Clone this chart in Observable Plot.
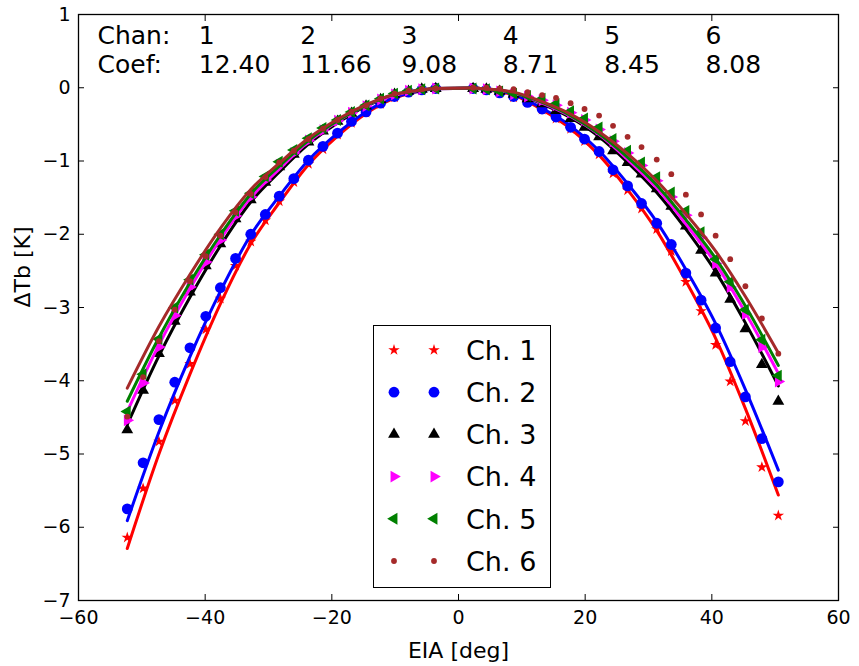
<!DOCTYPE html>
<html><head><meta charset="utf-8">
<script src="https://cdn.jsdelivr.net/npm/d3@7"></script>
<script src="https://cdn.jsdelivr.net/npm/@observablehq/plot@0.6"></script>
<style>
body{margin:0;background:#fff;}
#wrap{position:relative;width:859px;height:666px;font-family:"DejaVu Sans",sans-serif;}
#legend{position:absolute;left:373px;top:325px;width:178px;height:263px;border:1.5px solid #000;background:#fff;box-sizing:border-box;}
</style></head><body><div id="wrap"></div>
<script>
// ---- data ----
const eia = [-52.3,-49.8,-47.3,-44.8,-42.4,-39.9,-37.6,-35.2,-32.8,-30.5,-28.3,-26.0,-23.7,-21.4,-19.1,-16.9,-14.6,-12.3,-10.1,-7.9,-5.8,-3.6,
  2.3,4.4,6.5,8.7,10.9,13.2,15.4,17.7,19.9,22.2,24.4,26.7,28.9,31.3,33.6,35.9,38.3,40.6,42.9,45.3,47.9,50.5];
const ch1 = [-6.14,-5.47,-4.83,-4.27,-3.77,-3.30,-2.88,-2.43,-2.10,-1.81,-1.55,-1.29,-1.04,-0.84,-0.64,-0.48,-0.34,-0.22,-0.13,-0.06,-0.03,-0.01,
  -0.01,-0.03,-0.07,-0.13,-0.20,-0.30,-0.42,-0.56,-0.73,-0.91,-1.17,-1.40,-1.65,-1.93,-2.23,-2.65,-3.05,-3.51,-4.01,-4.55,-5.18,-5.84];
const ch2 = [-5.75,-5.12,-4.53,-4.02,-3.55,-3.12,-2.73,-2.33,-2.00,-1.73,-1.48,-1.24,-0.99,-0.80,-0.62,-0.46,-0.33,-0.21,-0.12,-0.06,-0.03,-0.01,
  -0.01,-0.03,-0.07,-0.12,-0.20,-0.29,-0.40,-0.54,-0.70,-0.87,-1.12,-1.34,-1.58,-1.85,-2.14,-2.53,-2.90,-3.28,-3.74,-4.22,-4.79,-5.38];
const ch3 = [-4.67,-4.13,-3.63,-3.19,-2.79,-2.43,-2.13,-1.79,-1.53,-1.29,-1.08,-0.91,-0.74,-0.59,-0.46,-0.35,-0.25,-0.16,-0.09,-0.05,-0.02,-0.01,
  -0.01,-0.02,-0.05,-0.09,-0.15,-0.22,-0.31,-0.42,-0.54,-0.67,-0.86,-1.02,-1.18,-1.38,-1.62,-1.89,-2.22,-2.53,-2.89,-3.29,-3.78,-4.28];
const ch4 = [-4.54,-4.03,-3.54,-3.11,-2.72,-2.38,-2.08,-1.75,-1.49,-1.26,-1.05,-0.89,-0.72,-0.58,-0.45,-0.34,-0.25,-0.16,-0.09,-0.04,-0.02,-0.01,
  -0.01,-0.02,-0.05,-0.09,-0.12,-0.17,-0.24,-0.34,-0.44,-0.57,-0.73,-0.89,-1.06,-1.27,-1.49,-1.74,-2.04,-2.40,-2.72,-3.09,-3.54,-4.01];
const ch5 = [-4.42,-3.91,-3.43,-3.00,-2.62,-2.28,-2.00,-1.68,-1.44,-1.21,-1.01,-0.85,-0.69,-0.55,-0.44,-0.33,-0.24,-0.15,-0.08,-0.04,-0.02,-0.01,
  -0.01,-0.02,-0.05,-0.08,-0.11,-0.15,-0.22,-0.32,-0.42,-0.54,-0.70,-0.86,-1.02,-1.22,-1.43,-1.68,-1.97,-2.34,-2.65,-3.03,-3.44,-3.93];
const ch6 = [-4.49,-3.95,-3.46,-3.03,-2.64,-2.30,-2.02,-1.70,-1.45,-1.22,-1.02,-0.86,-0.70,-0.56,-0.44,-0.33,-0.24,-0.15,-0.08,-0.04,-0.02,-0.01,
  0.00,0.00,-0.01,-0.02,-0.06,-0.10,-0.14,-0.21,-0.29,-0.38,-0.52,-0.67,-0.81,-0.98,-1.18,-1.46,-1.73,-2.02,-2.34,-2.71,-3.15,-3.63];

const fitX = [-52.3,-47.3,-42.4,-37.6,-32.8,-28.3,-23.7,-19.1,-14.6,-10.1,-5.8,-3.6,2.3,4.4,8.7,13.2,17.7,22.2,26.7,31.3,35.9,40.6,45.3,50.5];
const fit1 = [-6.29,-5.00,-3.91,-2.95,-2.13,-1.57,-1.05,-0.66,-0.35,-0.14,-0.04,-0.015,-0.006,-0.025,-0.10,-0.30,-0.56,-0.92,-1.39,-1.95,-2.64,-3.42,-4.38,-5.56];
const fit2 = [-5.91,-4.70,-3.67,-2.78,-2.01,-1.48,-0.99,-0.62,-0.33,-0.13,-0.04,-0.014,-0.006,-0.023,-0.09,-0.28,-0.52,-0.86,-1.31,-1.83,-2.48,-3.22,-4.12,-5.22];
const fit3 = [-4.60,-3.66,-2.86,-2.16,-1.56,-1.15,-0.77,-0.48,-0.25,-0.10,-0.03,-0.011,-0.005,-0.018,-0.07,-0.22,-0.41,-0.67,-1.02,-1.43,-1.93,-2.51,-3.21,-4.07];
const fit4 = [-4.42,-3.51,-2.74,-2.07,-1.50,-1.11,-0.74,-0.46,-0.24,-0.10,-0.03,-0.010,-0.004,-0.017,-0.07,-0.21,-0.39,-0.64,-0.98,-1.37,-1.86,-2.40,-3.07,-3.90];
const fit5 = [-4.28,-3.41,-2.66,-2.01,-1.45,-1.07,-0.72,-0.45,-0.24,-0.09,-0.03,-0.010,-0.004,-0.017,-0.07,-0.20,-0.38,-0.63,-0.95,-1.33,-1.80,-2.33,-2.98,-3.79];
const fit6 = [-4.10,-3.26,-2.55,-1.92,-1.39,-1.03,-0.69,-0.43,-0.23,-0.09,-0.03,-0.010,-0.004,-0.016,-0.06,-0.19,-0.36,-0.60,-0.90,-1.27,-1.72,-2.23,-2.85,-3.62];

const chanLabels = ["Chan:","1","2","3","4","5","6"];
const coefLabels = ["Coef:","12.40","11.66","9.08","8.71","8.45","8.08"];
const legendLabels = ["Ch. 1","Ch. 2","Ch. 3","Ch. 4","Ch. 5","Ch. 6"];
const xTicks = [-60,-40,-20,0,20,40,60];
const yTicks = [1,0,-1,-2,-3,-4,-5,-6,-7];
const annotX = [-57,-41,-25,-9,7,23,39];
const annotY = [0.6, 0.2];

// ---- styles ----
const colors = ["#ff0000","#0000ff","#000000","#ff00ff","#008000","#a52a2a"];
const triRight = {draw(c, size){const k=Math.sqrt(size/(3*Math.sqrt(3)));c.moveTo(2*k,0);c.lineTo(-k,-Math.sqrt(3)*k);c.lineTo(-k,Math.sqrt(3)*k);c.closePath();}};
const triLeft = {draw(c, size){const k=Math.sqrt(size/(3*Math.sqrt(3)));c.moveTo(-2*k,0);c.lineTo(k,-Math.sqrt(3)*k);c.lineTo(k,Math.sqrt(3)*k);c.closePath();}};
const symbols = ["star","circle","triangle",triRight,triLeft,"circle"];
const radii = [3.6,5.4,4.4,4.4,4.4,2.9];

const series = [ch1,ch2,ch3,ch4,ch5,ch6];
const fits = [fit1,fit2,fit3,fit4,fit5,fit6];
const minus = d => d < 0 ? "\u2212" + Math.abs(d) : String(d);

const marks = [];
series.forEach((s, k) => {
  const pts = eia.map((x, i) => ({x, y: s[i]}));
  const fl = fitX.map((x, i) => ({x, y: fits[k][i]}));
  marks.push(Plot.dot(pts, {x: "x", y: "y", r: radii[k], symbol: symbols[k], fill: colors[k], stroke: "none"}));
  marks.push(Plot.line(fl, {x: "x", y: "y", stroke: colors[k], strokeWidth: 3, curve: "monotone-x"}));
});

const fontAx = "DejaVu Sans";
const chart = Plot.plot({
  width: 859, height: 666,
  marginLeft: 78, marginRight: 21, marginTop: 14, marginBottom: 66,
  style: {fontFamily: fontAx, background: "#fff", overflow: "visible"},
  x: {domain: [-60, 60]},
  y: {domain: [-7, 1]},
  marks: [
    ...marks,
    Plot.text(chanLabels, {x: (d, i) => annotX[i], y: annotY[0], text: d => d, textAnchor: "start", lineAnchor: "bottom", fontSize: 25, fill: "#000", fontFamily: fontAx}),
    Plot.text(coefLabels, {x: (d, i) => annotX[i], y: annotY[1], text: d => d, textAnchor: "start", lineAnchor: "bottom", fontSize: 25, fill: "#000", fontFamily: fontAx}),
    Plot.axisX({ticks: xTicks, tickSize: -6, tickPadding: 16, tickFormat: minus, fontSize: 19, label: null, stroke: "#000", color: "#000"}),
    Plot.axisX({anchor: "top", ticks: xTicks, tickSize: -6, tickFormat: () => "", label: null}),
    Plot.axisY({ticks: yTicks, tickSize: -6, tickPadding: 14, tickFormat: minus, fontSize: 19, label: null}),
    Plot.axisY({anchor: "right", ticks: yTicks, tickSize: -6, tickFormat: () => "", label: null}),
    Plot.frame({stroke: "#000", strokeWidth: 1.3}),
    Plot.text(["EIA [deg]"], {frameAnchor: "bottom", dy: 50, text: d => d, fontSize: 22, lineAnchor: "middle", fill: "#000"}),
    Plot.text(["\u0394Tb [K]"], {frameAnchor: "left", dx: -56, rotate: -90, text: d => d, fontSize: 22, lineAnchor: "middle", fill: "#000"})
  ]
});
const wrap = document.getElementById("wrap");
wrap.appendChild(chart);

// ---- legend ----
const leg = document.createElement("div");
leg.id = "legend";
wrap.appendChild(leg);
const lsvg = d3.select(leg).append("svg").attr("width", 178).attr("height", 263).style("display","block");
legendLabels.forEach((lab, k) => {
  const cy = 24 + k * 42.2;
  const sym = d3.symbol(typeof symbols[k] === "string" ? {star: d3.symbolStar, circle: d3.symbolCircle, triangle: d3.symbolTriangle}[symbols[k]] : symbols[k], radii[k] * radii[k] * Math.PI);
  [20, 60].forEach(cx => lsvg.append("path").attr("d", sym()).attr("transform", `translate(${cx},${cy})`).attr("fill", colors[k]));
  lsvg.append("text").attr("x", 92).attr("y", cy).attr("dy", "0.36em").attr("font-size", 27).attr("font-family", fontAx).attr("fill", "#000").text(lab);
});
</script></body></html>
